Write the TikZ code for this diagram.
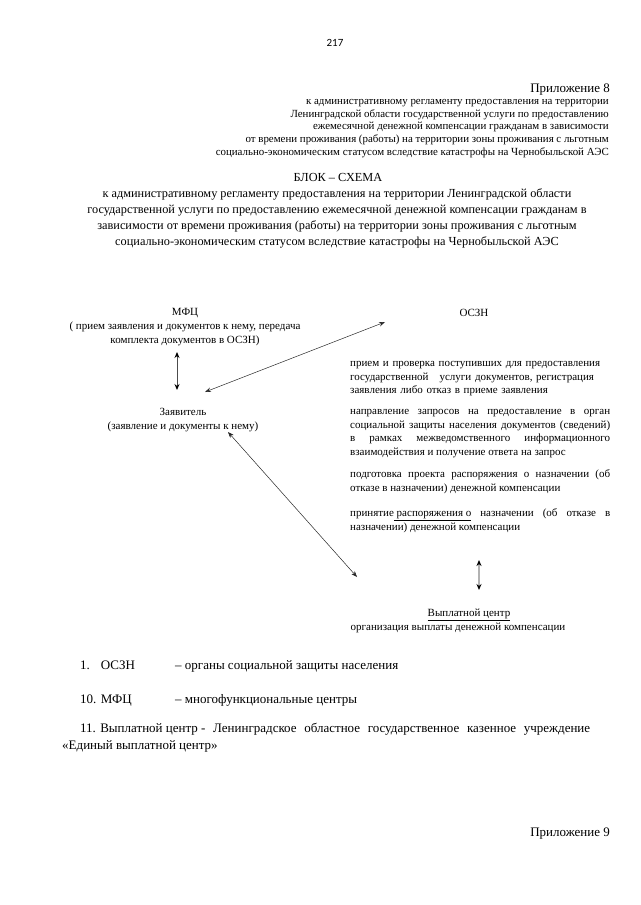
\documentclass[tikz,border=0pt]{standalone}
\usepackage{fontspec}
\setmainfont{Liberation Serif}
\newfontfamily\pagenumfont{Carlito}
\usetikzlibrary{positioning,arrows.meta}

\tikzstyle{headnote} = [align=right, inner sep=0pt, font=\fontsize{10.9}{12.8}\selectfont]
\tikzstyle{titletext} = [align=center, inner sep=0pt, font=\fontsize{12.3}{16}\selectfont]
\tikzstyle{party} = [align=center, inner sep=0pt, font=\fontsize{11}{13.8}\selectfont]
\tikzstyle{procstep} = [text width=260pt, align=justify, inner sep=0pt, font=\fontsize{11}{13.6}\selectfont]
\tikzstyle{legend} = [inner sep=0pt, font=\fontsize{13}{17}\selectfont]
\tikzstyle{arrow} = [{Stealth[length=6pt, width=4.5pt]}-{Stealth[length=6pt, width=4.5pt]}, draw=black!85, line width=0.5pt]
\tikzstyle{graylink} = [{Stealth[black, length=6pt, width=5pt]}-{Stealth[black, length=6pt, width=5pt]}, draw=gray!60, line width=1.2pt]

\begin{document}
\begin{tikzpicture}[x=1pt, y=-1pt]
  \useasboundingbox (0,0) rectangle (640,905);

  % page head
  \node (pagenum) at (335,43) {\pagenumfont\fontsize{11}{13}\selectfont 217};
  \node (annex8) [anchor=base east, inner sep=0pt, font=\fontsize{13}{15}\selectfont] at (610,92) {Приложение 8};
  \node (annexnote) [headnote, anchor=base east] at (609,155.5) {к  административному регламенту предоставления на территории\\
    Ленинградской области государственной услуги по  предоставлению\\
    ежемесячной денежной компенсации гражданам в зависимости\\
    от времени проживания (работы) на территории зоны проживания с льготным\\
    социально-экономическим статусом вследствие катастрофы на Чернобыльской АЭС};

  % title
  \node (title) [titletext, anchor=base] at (338,181.5) {БЛОК – СХЕМА};
  \node (subtitle) [titletext, anchor=base] at (337,245.5) {к  административному регламенту предоставления на территории Ленинградской области\\
    государственной услуги по  предоставлению  ежемесячной денежной компенсации гражданам в\\
    зависимости от времени проживания (работы) на территории зоны проживания с льготным\\
    социально-экономическим статусом вследствие катастрофы на Чернобыльской АЭС};

  % participants
  \node (mfc) [party, anchor=base] at (185,343.5) {МФЦ\\
    ( прием заявления и документов к нему, передача\\
    комплекта документов в ОСЗН)};
  \node (applicant) [party, anchor=base] at (183,429.5) {Заявитель\\
    (заявление и документы к нему)};
  \node (oszn) [party, anchor=base] at (474,316.5) {ОСЗН};

  % OSZN procedure
  \node (proc1) [procstep, align=left, anchor=base west] at (350,366.5) {прием и  проверка  поступивших для предоставления\\
    государственной \ \ услуги документов, регистрация\\
    заявления либо отказ в приеме заявления};
  \node (proc2) [procstep, anchor=base west] at (350,414.5) {направление  запросов  на  предоставление  в  орган\linebreak
    социальной защиты населения документов (сведений)\linebreak
    в рамках межведомственного информационного\linebreak
    взаимодействия и получение ответа на запрос};
  \node (proc3) [procstep, anchor=base west] at (350,477.5) {подготовка проекта распоряжения о назначении (об\linebreak
    отказе в назначении) денежной компенсации};
  \node (proc4) [procstep, anchor=base west] at (350,516.5) {принятие\underline{ распоряжения о} назначении (об отказе в\linebreak
    назначении) денежной компенсации};

  \node (payc) [party, anchor=base] at (469,616.5) {\underline{Выплатной центр}};
  \node (paytask) [party, anchor=base] at (458,630.5) {организация выплаты денежной компенсации};

  % connector ends
  \coordinate (mfcend) at (177,352);
  \coordinate (appltop) at (177,390);
  \coordinate (applright) at (205,392);
  \coordinate (osznend) at (385,322);
  \coordinate (applbottom) at (228,432);
  \coordinate (payend) at (357,577);
  \coordinate (proctail) at (479,560);
  \coordinate (payhead) at (479,590);

  \draw [graylink, draw=black!70, line width=0.9pt] (mfcend) -- (appltop);
  \draw [arrow] (applright) -- (osznend);
  \draw [arrow] (applbottom) -- (payend);
  \draw [graylink] (proctail) -- (payhead);

  % legend
  \node (legoszn) [legend, anchor=base west] at (80,669.5) {\makebox[95pt][l]{1.\hspace{11pt}ОСЗН}– органы социальной защиты населения};
  \node (legmfc) [legend, anchor=base west] at (80,703.5) {\makebox[95pt][l]{10. МФЦ}– многофункциональные центры};
  \node (legpay) [legend, text width=528pt, align=justify, anchor=base west] at (62,732.5) {\hspace*{18pt}\mbox{11. Выплатной центр -}  Ленинградское  областное  государственное  казенное  учреждение\linebreak
    «Единый выплатной центр»};

  \node (annex9) [anchor=base east, inner sep=0pt, font=\fontsize{13}{15}\selectfont] at (610,836) {Приложение 9};
\end{tikzpicture}
\end{document}
